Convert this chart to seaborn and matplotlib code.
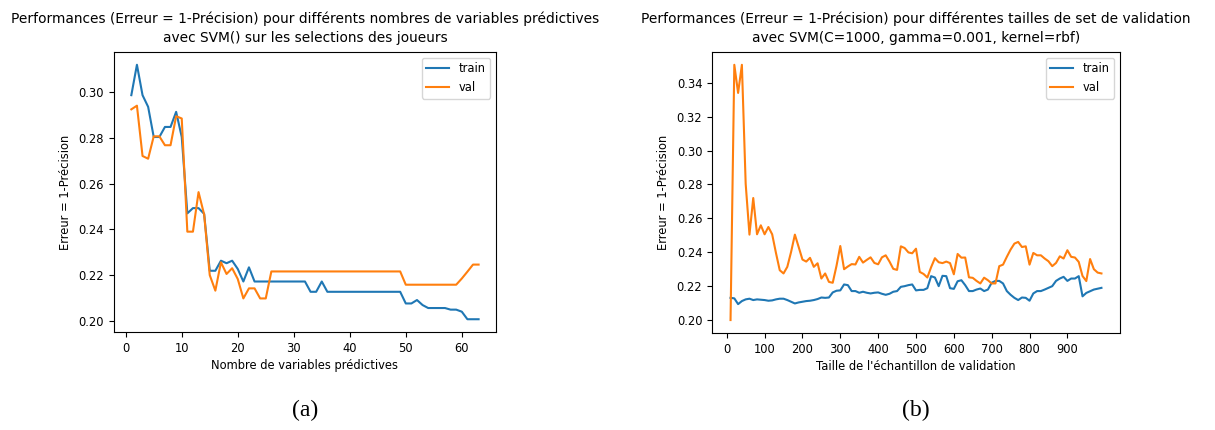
import numpy as np
import pandas as pd
import matplotlib
matplotlib.use("Agg")
import matplotlib.pyplot as plt
import seaborn as sns

# --- (a) error vs number of predictive variables ---
n_vars = list(range(1, 64))
train_a = [0.2987, 0.3120, 0.2987, 0.2936, 0.2804, 0.2804, 0.2848, 0.2848, 0.2914, 0.2804,
           0.2470, 0.2493, 0.2493, 0.2468, 0.2219, 0.2219, 0.2263, 0.2252, 0.2263, 0.2227,
           0.2172, 0.2234] + [0.2172] * 10 + [0.2127, 0.2127, 0.2172] + [0.2127] * 14 + \
          [0.2076, 0.2076, 0.2091, 0.2069] + [0.2056] * 4 + [0.2049, 0.2049, 0.2040] + [0.2007] * 3
val_a = [0.2925, 0.2941, 0.2721, 0.2709, 0.2807, 0.2807, 0.2768, 0.2768, 0.2895, 0.2885,
         0.2390, 0.2390, 0.2563, 0.2465, 0.2200, 0.2132, 0.2256, 0.2205, 0.2230, 0.2183,
         0.2098, 0.2142, 0.2142, 0.2098, 0.2098] + [0.2216] * 24 + [0.2158] * 10 + \
        [0.2185, 0.2215, 0.2246, 0.2246]

# --- (b) error vs validation sample size ---
val_size = list(range(10, 1000, 10))
train_b = [0.2131, 0.2128, 0.2094, 0.2112, 0.2122, 0.2126, 0.2118, 0.2122, 0.2120, 0.2118,
           0.2114, 0.2116, 0.2122, 0.2126, 0.2126, 0.2118, 0.2108, 0.2098, 0.2104, 0.2108,
           0.2112, 0.2114, 0.2118, 0.2124, 0.2133, 0.2131, 0.2133, 0.2163, 0.2173, 0.2175,
           0.2210, 0.2206, 0.2171, 0.2171, 0.2161, 0.2167, 0.2161, 0.2157, 0.2161, 0.2163,
           0.2155, 0.2149, 0.2155, 0.2167, 0.2171, 0.2196, 0.2200, 0.2206, 0.2210, 0.2175,
           0.2178, 0.2178, 0.2188, 0.2259, 0.2251, 0.2200, 0.2261, 0.2259, 0.2188, 0.2184,
           0.2229, 0.2235, 0.2206, 0.2171, 0.2171, 0.2180, 0.2186, 0.2171, 0.2180, 0.2220,
           0.2231, 0.2231, 0.2216, 0.2171, 0.2149, 0.2131, 0.2118, 0.2133, 0.2131, 0.2114,
           0.2157, 0.2171, 0.2171, 0.2180, 0.2190, 0.2200, 0.2231, 0.2245, 0.2255, 0.2231,
           0.2245, 0.2245, 0.2259, 0.2140, 0.2160, 0.2170, 0.2180, 0.2185, 0.2190]
val_b = [0.2000, 0.3506, 0.3340, 0.3506, 0.2804, 0.2504, 0.2720, 0.2506, 0.2559, 0.2506,
         0.2549, 0.2506, 0.2396, 0.2294, 0.2275, 0.2314, 0.2402, 0.2504, 0.2431, 0.2357,
         0.2345, 0.2367, 0.2314, 0.2335, 0.2245, 0.2275, 0.2225, 0.2220, 0.2320, 0.2437,
         0.2300, 0.2316, 0.2330, 0.2328, 0.2373, 0.2339, 0.2355, 0.2370, 0.2337, 0.2329,
         0.2370, 0.2382, 0.2345, 0.2302, 0.2296, 0.2435, 0.2425, 0.2399, 0.2394, 0.2421,
         0.2284, 0.2272, 0.2251, 0.2312, 0.2365, 0.2341, 0.2336, 0.2345, 0.2336, 0.2270,
         0.2390, 0.2368, 0.2369, 0.2252, 0.2249, 0.2231, 0.2216, 0.2250, 0.2235, 0.2216,
         0.2216, 0.2318, 0.2327, 0.2373, 0.2416, 0.2451, 0.2461, 0.2431, 0.2435, 0.2327,
         0.2396, 0.2382, 0.2382, 0.2363, 0.2347, 0.2318, 0.2337, 0.2376, 0.2363, 0.2412,
         0.2373, 0.2369, 0.2343, 0.2260, 0.2230, 0.2360, 0.2300, 0.2280, 0.2275]

title_a = ("Performances (Erreur = 1-Précision) pour différents nombres de variables prédictives\n"
           "avec SVM() sur les selections des joueurs")
title_b = ("Performances (Erreur = 1-Précision) pour différentes tailles de set de validation\n"
           "avec SVM(C=1000, gamma=0.001, kernel=rbf)")
xlabel_a = "Nombre de variables prédictives"
xlabel_b = "Taille de l'échantillon de validation"
ylabel = "Erreur = 1-Précision"

plt.rcParams["font.family"] = ["DejaVu Sans"]
TICK = 8.3
LAB = 8.3
TIT = 9.9

fig = plt.figure(figsize=(12.15, 4.30), dpi=100)
ax_a = fig.add_axes([0.0938, 0.228, 0.3144, 0.651])
ax_b = fig.add_axes([0.586, 0.226, 0.3358, 0.653])

blue, orange = "#1f77b4", "#ff7f0e"


def draw(ax, x, tr, va, title, xlabel, xticks, yticks):
    sns.lineplot(x=x, y=tr, ax=ax, color=blue, label="train", linewidth=1.5)
    sns.lineplot(x=x, y=va, ax=ax, color=orange, label="val", linewidth=1.5)
    ax.set_title(title, fontsize=TIT, pad=7.5, linespacing=1.45)
    ax.set_xlabel(xlabel, fontsize=LAB, labelpad=3)
    ax.set_ylabel(ylabel, fontsize=LAB, labelpad=5)
    ax.set_xticks(xticks)
    ax.set_yticks(yticks)
    ax.set_yticklabels([f"{t:.2f}" for t in yticks])
    ax.tick_params(labelsize=TICK, length=3.5, width=0.8)
    for s in ax.spines.values():
        s.set_linewidth(0.8)
    ax.legend(loc="upper right", fontsize=TICK)


draw(ax_a, n_vars, train_a, val_a, title_a, xlabel_a,
     list(range(0, 61, 10)), list(np.round(np.arange(0.20, 0.301, 0.02), 2)))
draw(ax_b, val_size, train_b, val_b, title_b, xlabel_b,
     list(range(0, 901, 100)), list(np.round(np.arange(0.20, 0.341, 0.02), 2)))

fig.text(0.251, 0.045, "(a)", ha="center", va="center", fontsize=17, family="Liberation Serif")
fig.text(0.754, 0.045, "(b)", ha="center", va="center", fontsize=17, family="Liberation Serif")

fig.savefig("out.png", dpi=100, facecolor="white")
